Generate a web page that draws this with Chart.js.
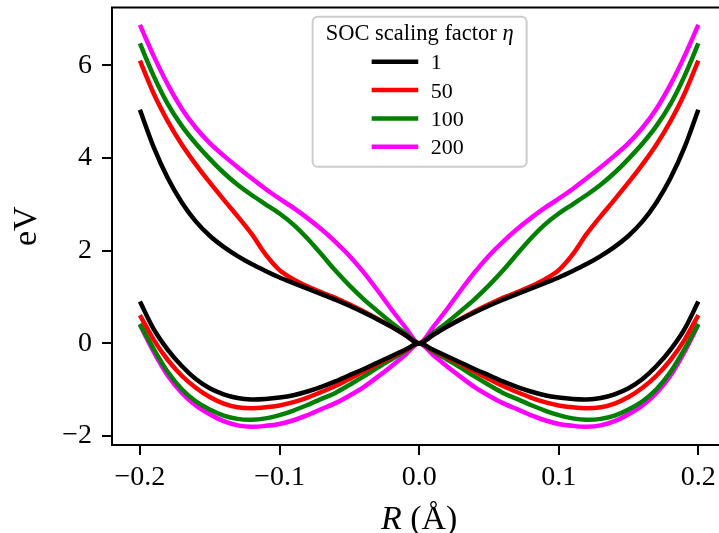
<!DOCTYPE html>
<html>
<head>
<meta charset="utf-8">
<script src="https://cdn.jsdelivr.net/npm/chart.js@4.4.1/dist/chart.umd.min.js"></script>
<style>
  html, body { margin: 0; padding: 0; background: #fff; overflow: hidden; }
  #wrap { width: 719px; height: 533px; position: relative; }
</style>
</head>
<body>
<div id="wrap"><canvas id="bands"></canvas></div>
<script>
// displacement R (Å)
const R = [-0.20, -0.19, -0.18, -0.17, -0.16, -0.15, -0.14, -0.13, -0.12, -0.11, -0.10,
           -0.09, -0.08, -0.07, -0.06, -0.05, -0.04, -0.03, -0.02, -0.01, 0.00,
            0.01, 0.02, 0.03, 0.04, 0.05, 0.06, 0.07, 0.08, 0.09, 0.10,
            0.11, 0.12, 0.13, 0.14, 0.15, 0.16, 0.17, 0.18, 0.19, 0.20];

// SOC scaling factors and their colours
const etaLabels = ['1', '50', '100', '200'];
const etaColors = ['#000000', '#ff0000', '#008000', '#ff00ff'];

// upper branch (eV)
const upper1 = [5.04, 4.22, 3.56, 3.04, 2.63, 2.32, 2.08, 1.88, 1.71, 1.56, 1.42, 1.30, 1.18, 1.06, 0.94, 0.81, 0.67, 0.52, 0.36, 0.18, 0,
                0.18, 0.36, 0.52, 0.67, 0.81, 0.94, 1.06, 1.18, 1.30, 1.42, 1.56, 1.71, 1.88, 2.08, 2.32, 2.63, 3.04, 3.56, 4.22, 5.04];
const upper50 = [6.10, 5.38, 4.79, 4.29, 3.86, 3.47, 3.10, 2.74, 2.36, 1.92, 1.58, 1.38, 1.23, 1.10, 0.98, 0.84, 0.69, 0.53, 0.36, 0.18, 0,
                 0.18, 0.36, 0.53, 0.69, 0.84, 0.98, 1.10, 1.23, 1.38, 1.58, 1.92, 2.36, 2.74, 3.10, 3.47, 3.86, 4.29, 4.79, 5.38, 6.10];
const upper100 = [6.47, 5.76, 5.16, 4.69, 4.31, 3.98, 3.68, 3.42, 3.20, 3.00, 2.80, 2.56, 2.26, 1.92, 1.57, 1.25, 0.96, 0.70, 0.45, 0.22, 0,
                  0.22, 0.45, 0.70, 0.96, 1.25, 1.57, 1.92, 2.26, 2.56, 2.80, 3.00, 3.20, 3.42, 3.68, 3.98, 4.31, 4.69, 5.16, 5.76, 6.47];
const upper200 = [6.87, 6.19, 5.58, 5.06, 4.65, 4.32, 4.05, 3.80, 3.56, 3.33, 3.12, 2.92, 2.70, 2.46, 2.19, 1.89, 1.54, 1.15, 0.74, 0.35, 0,
                  0.35, 0.74, 1.15, 1.54, 1.89, 2.19, 2.46, 2.70, 2.92, 3.12, 3.33, 3.56, 3.80, 4.05, 4.32, 4.65, 5.06, 5.58, 6.19, 6.87];

// lower branch (eV)
const lower1 = [0.90, 0.30, -0.14, -0.49, -0.77, -0.97, -1.10, -1.18, -1.21, -1.20, -1.17, -1.12, -1.04, -0.94, -0.82, -0.69, -0.56, -0.42, -0.28, -0.14, 0,
                -0.14, -0.28, -0.42, -0.56, -0.69, -0.82, -0.94, -1.04, -1.12, -1.17, -1.20, -1.21, -1.18, -1.10, -0.97, -0.77, -0.49, -0.14, 0.30, 0.90];
const lower50 = [0.61, 0.07, -0.36, -0.70, -0.96, -1.16, -1.30, -1.38, -1.40, -1.38, -1.34, -1.27, -1.17, -1.05, -0.92, -0.77, -0.61, -0.45, -0.30, -0.15, 0,
                 -0.15, -0.30, -0.45, -0.61, -0.77, -0.92, -1.05, -1.17, -1.27, -1.34, -1.38, -1.40, -1.38, -1.30, -1.16, -0.96, -0.70, -0.36, 0.07, 0.61];
const lower100 = [0.42, -0.13, -0.62, -0.99, -1.25, -1.43, -1.56, -1.63, -1.65, -1.62, -1.55, -1.45, -1.33, -1.20, -1.07, -0.90, -0.72, -0.53, -0.35, -0.17, 0,
                  -0.17, -0.35, -0.53, -0.72, -0.90, -1.07, -1.20, -1.33, -1.45, -1.55, -1.62, -1.65, -1.63, -1.56, -1.43, -1.25, -0.99, -0.62, -0.13, 0.42];
const lower200 = [0.40, -0.19, -0.70, -1.07, -1.34, -1.53, -1.68, -1.77, -1.80, -1.78, -1.74, -1.66, -1.55, -1.42, -1.29, -1.13, -0.95, -0.73, -0.50, -0.25, 0,
                  -0.25, -0.50, -0.73, -0.95, -1.13, -1.29, -1.42, -1.55, -1.66, -1.74, -1.78, -1.80, -1.77, -1.68, -1.53, -1.34, -1.07, -0.70, -0.19, 0.40];

const xTicks = [-0.2, -0.1, 0.0, 0.1, 0.2];
const yTicks = [-2, 0, 2, 4, 6];

const upperSets = [upper1, upper50, upper100, upper200];
const lowerSets = [lower1, lower50, lower100, lower200];

const SERIF = '"Liberation Serif", "DejaVu Serif", serif';

function toPoints(vals) {
  return R.map((r, i) => ({ x: r, y: vals[i] }));
}

const datasets = [];
etaLabels.forEach((lab, k) => {
  [upperSets[k], lowerSets[k]].forEach((vals, j) => {
    datasets.push({
      label: lab,
      inLegend: j === 0,
      data: toPoints(vals),
      borderColor: etaColors[k],
      backgroundColor: etaColors[k],
      borderWidth: 4.5,
      pointRadius: 0,
      tension: 0.3,
      fill: false,
      borderJoinStyle: 'round'
    });
  });
});

function fmtTick(v) {
  return v < 0 ? '\u2212' + Math.abs(v) : String(v);
}

// spines, axis titles and the legend box
const decorations = {
  id: 'decorations',
  afterDraw(chart) {
    const { ctx, chartArea: a, scales } = chart;
    const cx = scales.x.getPixelForValue(0);
    ctx.save();

    // top spine
    ctx.strokeStyle = '#000';
    ctx.lineWidth = 2;
    ctx.beginPath();
    ctx.moveTo(a.left - 1, a.top);
    ctx.lineTo(a.right, a.top);
    ctx.stroke();

    // x title: R (Å)
    ctx.fillStyle = '#000';
    ctx.textBaseline = 'alphabetic';
    ctx.font = 'italic 34px ' + SERIF;
    const rW = ctx.measureText('R').width;
    ctx.font = '34px ' + SERIF;
    const restW = ctx.measureText(' (\u00C5)').width;
    const x0 = cx - (rW + restW) / 2;
    ctx.font = 'italic 34px ' + SERIF;
    ctx.textAlign = 'left';
    ctx.fillText('R', x0, 529);
    ctx.font = '34px ' + SERIF;
    ctx.fillText(' (\u00C5)', x0 + rW, 529);

    // y title: eV
    ctx.save();
    ctx.translate(36, (a.top + a.bottom) / 2);
    ctx.rotate(-Math.PI / 2);
    ctx.textAlign = 'center';
    ctx.fillText('eV', 0, 0);
    ctx.restore();

    // legend
    const boxW = 214, boxH = 150, top = 16.7;
    const left = cx + 0.5 - boxW / 2;
    ctx.beginPath();
    ctx.roundRect(left, top, boxW, boxH, 5);
    ctx.fillStyle = 'rgba(255,255,255,0.8)';
    ctx.fill();
    ctx.strokeStyle = '#cccccc';
    ctx.lineWidth = 2;
    ctx.stroke();

    ctx.fillStyle = '#000';
    ctx.font = '22.5px ' + SERIF;
    const tA = 'SOC scaling factor ';
    const tAw = ctx.measureText(tA).width;
    ctx.font = 'italic 22.5px ' + SERIF;
    const tBw = ctx.measureText('\u03B7').width;
    const tx = left + boxW / 2 - (tAw + tBw) / 2;
    ctx.font = '22.5px ' + SERIF;
    ctx.textAlign = 'left';
    ctx.fillText(tA, tx, 40);
    ctx.font = 'italic 22.5px ' + SERIF;
    ctx.fillText('\u03B7', tx + tAw, 40);

    ctx.font = '22px ' + SERIF;
    const entries = chart.data.datasets.filter(d => d.inLegend);
    entries.forEach((d, i) => {
      const y = 61.7 + i * 28.35;
      ctx.strokeStyle = d.borderColor;
      ctx.lineWidth = 4.5;
      ctx.beginPath();
      ctx.moveTo(left + 59, y);
      ctx.lineTo(left + 105.6, y);
      ctx.stroke();
      ctx.fillStyle = '#000';
      ctx.fillText(d.label, left + 118, y + 7.5);
    });

    ctx.restore();
  }
};

const tickFont = { family: SERIF, size: 28 };

new Chart(document.getElementById('bands'), {
  type: 'line',
  data: { datasets },
  options: {
    responsive: true,
    maintainAspectRatio: false,
    animation: false,
    events: [],
    layout: { padding: { left: 0, right: 0, top: 7.5, bottom: 0 } },
    plugins: {
      legend: { display: false },
      tooltip: { enabled: false }
    },
    scales: {
      x: {
        type: 'linear',
        min: -0.22,
        max: 0.2148,
        afterFit(scale) {
          scale.height = 88;
          scale.paddingLeft = 0;
          scale.paddingRight = 0;
        },
        afterBuildTicks(scale) { scale.ticks = xTicks.map(v => ({ value: v })); },
        border: { display: true, color: '#000', width: 2 },
        grid: { drawOnChartArea: false, drawTicks: true, tickLength: 10, color: '#000', lineWidth: 2 },
        ticks: {
          font: tickFont,
          color: '#000',
          padding: 6,
          maxRotation: 0,
          callback: v => fmtTick(v.toFixed(1) * 1 === 0 ? '0.0' : v.toFixed(1))
        }
      },
      y: {
        type: 'linear',
        min: -2.194,
        max: 7.245,
        afterFit(scale) {
          scale.width = 112;
          scale.paddingTop = 0;
          scale.paddingBottom = 0;
        },
        afterBuildTicks(scale) { scale.ticks = yTicks.map(v => ({ value: v })); },
        border: { display: true, color: '#000', width: 2 },
        grid: { drawOnChartArea: false, drawTicks: true, tickLength: 10, color: '#000', lineWidth: 2 },
        ticks: {
          font: tickFont,
          color: '#000',
          padding: 10,
          callback: v => fmtTick(v)
        }
      }
    }
  },
  plugins: [decorations]
});
</script>
</body>
</html>
